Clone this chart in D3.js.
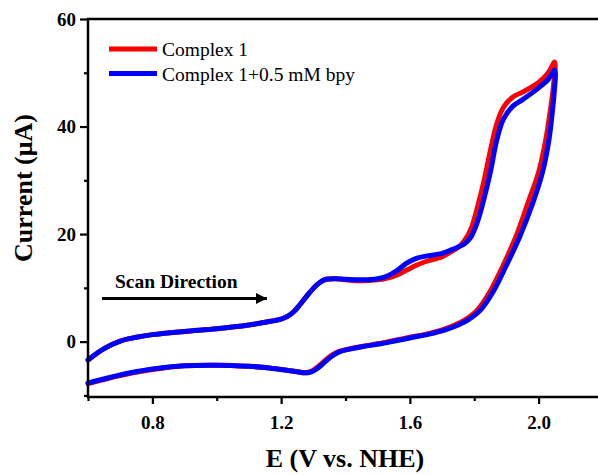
<!DOCTYPE html>
<html>
<head>
<meta charset="utf-8">
<script src="https://cdn.jsdelivr.net/npm/d3@7"></script>
<style>
  html, body { margin: 0; padding: 0; background: #fff; }
  svg { display: block; }
</style>
</head>
<body>
<svg id="chart" width="598" height="475"></svg>
<script>
// ---------- DATA ----------
const seriesNames = ["Complex 1", "Complex 1+0.5 mM bpy"];
const seriesColors = ["#ff0000", "#0000ff"];

// forward scan (anodic), potential in V vs. NHE
const fwdE = [0.60, 0.65, 0.70, 0.75, 0.80, 0.90, 1.00, 1.10, 1.15, 1.20, 1.22, 1.24, 1.26, 1.28, 1.30, 1.32, 1.34, 1.37, 1.40, 1.45, 1.50, 1.53, 1.56, 1.59, 1.62, 1.65, 1.70, 1.73, 1.75, 1.77, 1.79, 1.81, 1.83, 1.85, 1.87, 1.89, 1.92, 1.95, 2.00, 2.03, 2.05];
const redFwdI = [-3.4, -1.3, 0.1, 0.8, 1.3, 1.9, 2.4, 3.1, 3.6, 4.2, 4.7, 5.6, 7.0, 8.5, 9.9, 11.0, 11.6, 11.7, 11.5, 11.3, 11.5, 11.8, 12.4, 13.3, 14.2, 14.9, 15.8, 16.8, 17.5, 18.8, 21.0, 25.0, 29.8, 35.5, 40.5, 43.5, 45.5, 46.4, 48.2, 50.0, 52.0];
const blueFwdI = [-3.4, -1.3, 0.1, 0.8, 1.3, 1.9, 2.4, 3.1, 3.6, 4.2, 4.7, 5.6, 7.0, 8.5, 9.9, 11.0, 11.6, 11.7, 11.6, 11.5, 11.7, 12.2, 13.2, 14.6, 15.5, 15.9, 16.4, 17.1, 17.6, 18.2, 19.5, 22.3, 26.5, 31.5, 37.5, 41.3, 43.8, 45.0, 47.2, 48.8, 50.5];

// reverse scan (cathodic)
const redRevE = [2.045, 2.038, 2.022, 2.00, 1.97, 1.93, 1.89, 1.85, 1.81, 1.77, 1.74, 1.70, 1.65, 1.60, 1.55, 1.50, 1.45, 1.40, 1.38, 1.36, 1.34, 1.32, 1.30, 1.285, 1.27, 1.25, 1.20, 1.15, 1.10, 1.00, 0.90, 0.80, 0.70, 0.60];
const redRevI = [47.0, 43.7, 37.5, 31.5, 26.3, 19.6, 14.2, 9.4, 5.9, 4.0, 3.1, 2.2, 1.4, 0.8, 0.2, -0.4, -0.9, -1.5, -1.8, -2.4, -3.3, -4.4, -5.3, -5.7, -5.8, -5.6, -5.2, -4.8, -4.6, -4.4, -4.5, -5.2, -6.3, -7.8];
const blueRevE = [2.048, 2.043, 2.032, 2.012, 1.985, 1.942, 1.90, 1.86, 1.82, 1.78, 1.75, 1.71, 1.66, 1.61, 1.56, 1.51, 1.455, 1.405, 1.385, 1.365, 1.345, 1.325, 1.305, 1.29, 1.275, 1.25, 1.20, 1.15, 1.10, 1.00, 0.90, 0.80, 0.70, 0.60];
const blueRevI = [46.0, 43.0, 37.5, 31.5, 26.3, 19.6, 14.2, 9.4, 5.9, 4.0, 3.1, 2.2, 1.4, 0.8, 0.2, -0.4, -0.9, -1.5, -1.8, -2.4, -3.3, -4.4, -5.3, -5.7, -5.8, -5.6, -5.2, -4.8, -4.6, -4.4, -4.5, -5.1, -6.2, -7.7];

const xMajorTicks = [0.8, 1.2, 1.6, 2.0];
const xMinorTicks = [0.6, 1.0, 1.4, 1.8, 2.2];
const yMajorTicks = [0, 20, 40, 60];
const yMinorTicks = [-10, 10, 30, 50];
const xTitle = "E (V vs. NHE)";
const yTitle = "Current (\u03bcA)";
const annotation = "Scan Direction";

// ---------- LAYOUT ----------
const svg = d3.select("#chart");
const mLeft = 88, mRight = 603, mTop = 19, mBottom = 397;
const x = d3.scaleLinear().domain([0.6, 2.2]).range([mLeft, mRight]);
const y = d3.scaleLinear().domain([-10.3, 60]).range([mBottom, mTop]);
const serif = "'Times New Roman', 'Liberation Serif', serif";

const loops = [
  fwdE.map((e, i) => [e, redFwdI[i]]).concat(redRevE.map((e, i) => [e, redRevI[i]])),
  fwdE.map((e, i) => [e, blueFwdI[i]]).concat(blueRevE.map((e, i) => [e, blueRevI[i]]))
];

const line = d3.line()
  .x(d => x(d[0]))
  .y(d => y(d[1]))
  .curve(d3.curveCatmullRom.alpha(0.5));

svg.append("g").selectAll("path")
  .data(loops)
  .join("path")
  .attr("d", d => line(d))
  .attr("fill", "none")
  .attr("stroke", (d, i) => seriesColors[i])
  .attr("stroke-width", 5)
  .attr("stroke-linejoin", "round")
  .attr("stroke-linecap", "round");

// ---------- AXES ----------
const axisW = 2.5;
function styleAxis(g) {
  g.select(".domain").remove();
  g.selectAll("line").attr("stroke", "#000").attr("stroke-width", 2.2);
  g.selectAll("text").attr("font-family", serif).attr("font-weight", "bold")
    .attr("font-size", 19).attr("fill", "#000");
}

svg.append("g").attr("transform", `translate(0,${mBottom})`)
  .call(d3.axisBottom(x).tickValues(xMajorTicks).tickSize(7).tickPadding(12).tickFormat(d3.format(".1f")))
  .call(styleAxis);
svg.append("g").attr("transform", `translate(0,${mBottom})`)
  .call(d3.axisBottom(x).tickValues(xMinorTicks).tickSize(4).tickFormat(""))
  .call(styleAxis);
svg.append("g").attr("transform", `translate(${mLeft},0)`)
  .call(d3.axisLeft(y).tickValues(yMajorTicks).tickSize(8).tickPadding(4).tickFormat(d3.format("d")))
  .call(styleAxis);
svg.append("g").attr("transform", `translate(${mLeft},0)`)
  .call(d3.axisLeft(y).tickValues(yMinorTicks).tickSize(4).tickFormat(""))
  .call(styleAxis);

// frame
svg.append("rect")
  .attr("x", mLeft).attr("y", mTop)
  .attr("width", mRight - mLeft).attr("height", mBottom - mTop)
  .attr("fill", "none").attr("stroke", "#000").attr("stroke-width", axisW);

// titles
svg.append("text")
  .attr("x", 345).attr("y", 467)
  .attr("text-anchor", "middle")
  .attr("font-family", serif).attr("font-weight", "bold").attr("font-size", 26)
  .text(xTitle);
svg.append("text")
  .attr("transform", "translate(32,188) rotate(-90)")
  .attr("text-anchor", "middle")
  .attr("font-family", serif).attr("font-weight", "bold").attr("font-size", 26)
  .text(yTitle);

// annotation
svg.append("text")
  .attr("x", 115).attr("y", 288)
  .attr("font-family", serif).attr("font-weight", "bold").attr("font-size", 19.5)
  .text(annotation);
svg.append("defs").append("marker")
  .attr("id", "ah").attr("viewBox", "0 0 10 10")
  .attr("refX", 10).attr("refY", 5)
  .attr("markerWidth", 17).attr("markerHeight", 11)
  .attr("markerUnits", "userSpaceOnUse")
  .attr("orient", "auto")
  .append("path").attr("d", "M0,0 L10,5 L0,10 Z").attr("fill", "#000");
svg.append("line")
  .attr("x1", 102).attr("x2", 267)
  .attr("y1", 298.5).attr("y2", 298.5)
  .attr("stroke", "#000").attr("stroke-width", 3)
  .attr("marker-end", "url(#ah)");

// legend
const legend = svg.append("g").selectAll("g")
  .data(seriesNames)
  .join("g")
  .attr("transform", (d, i) => `translate(109,${49 + i * 24.5})`);
legend.append("line")
  .attr("x1", 0).attr("x2", 48)
  .attr("stroke", (d, i) => seriesColors[i])
  .attr("stroke-width", 5);
legend.append("text")
  .attr("x", 53).attr("y", 7)
  .attr("font-family", serif).attr("font-size", 19.5)
  .text(d => d);
</script>
</body>
</html>
